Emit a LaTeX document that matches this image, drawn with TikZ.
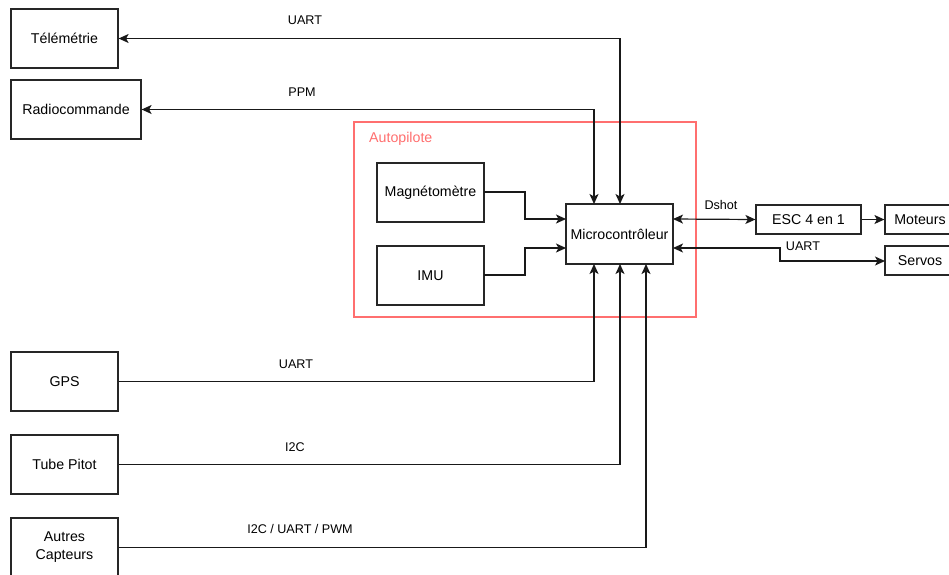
\documentclass[tikz,border=0pt]{standalone}
\usepackage{fontspec}
\setmainfont{Liberation Sans}
\usetikzlibrary{arrows.meta}
\definecolor{autored}{HTML}{FF6F6F}
\tikzset{
  box/.style={draw=black!85, line width=1.2pt, fill=white, inner sep=0pt, align=center, font=\fontsize{14.2}{18}\selectfont},
  lbl/.style={font=\fontsize{12.6}{15}\selectfont, inner sep=0pt},
  conn/.style={line width=1.2pt, black!90},
  tip/.style={-{Stealth[length=10pt,width=9pt,inset=2.5pt]}},
  tips/.style={{Stealth[length=10pt,width=9pt,inset=2.5pt]}-{Stealth[length=10pt,width=9pt,inset=2.5pt]}}
}
\begin{document}
\begin{tikzpicture}[x=1pt,y=-1pt]
\useasboundingbox[fill=white] (0,0) rectangle (949,574);
% frame
\node[draw=autored, line width=1.2pt, minimum width=342pt, minimum height=195pt, inner sep=0pt] (frame) at (525,219.5) {};
\node[anchor=west, text=autored, font=\fontsize{14.2}{17}\selectfont, inner sep=0pt] (autolbl) at (369,139) {Autopilote};
% boxes
\node[box, minimum width=107pt, minimum height=59pt] (tele) at (64.5,38.5) {Télémétrie};
\node[box, minimum width=130pt, minimum height=59pt] (radio) at (76,109.5) {Radiocommande};
\node[box, minimum width=107pt, minimum height=59pt] (mag) at (430.5,192.5) {Magnétomètre};
\node[box, minimum width=107pt, minimum height=59pt] (imu) at (430.5,275.5) {IMU};
\node[box, minimum width=107pt, minimum height=60pt] (micro) at (619.5,234) {Microcontrôleur};
\node[box, minimum width=105pt, minimum height=29pt] (esc) at (808.5,219.5) {ESC 4 en 1};
\node[box, minimum width=70pt, minimum height=29pt] (mot) at (920,219.5) {Moteurs};
\node[box, minimum width=70pt, minimum height=29pt] (serv) at (920,260.5) {Servos};
\node[box, minimum width=107pt, minimum height=59pt] (gps) at (64.5,381.5) {GPS};
\node[box, minimum width=107pt, minimum height=59pt] (pitot) at (64.5,464.5) {Tube Pitot};
\node[box, minimum width=107pt, minimum height=59pt] (autres) at (64.5,547.5) {Autres\\Capteurs};
% anchor coordinates on microcontroller
\coordinate (mtA) at (594,204);
\coordinate (mtB) at (620,204);
\coordinate (mbA) at (594,264);
\coordinate (mbB) at (620,264);
\coordinate (mbC) at (646,264);
\coordinate (mlA) at (566,219);
\coordinate (mlB) at (566,248);
\coordinate (mrA) at (673,219);
\coordinate (mrB) at (673,248);
\coordinate (sv) at (885,261);
\coordinate (mgo) at (484,192);
\coordinate (imo) at (484,275);
% connectors
\draw[conn,tips] (tele.east) -| (mtB);
\draw[conn,tips] (radio.east) -| (mtA);
\draw[conn,tip] (mgo) -- (525,192) |- (mlA);
\draw[conn,tip] (imo) -- (525,275) |- (mlB);
\draw[conn,tips] (mrA) -- (esc.west);
\draw[conn,tip] (esc.east) -- (mot.west);
\draw[conn,tips] (mrB) -- (780,248) |- (sv);
\draw[conn,tip] (gps.east) -| (mbA);
\draw[conn,tip] (pitot.east) -| (mbB);
\draw[conn,tip] (autres.east) -| (mbC);
% labels
\node[lbl] (l1) at (305,20) {UART};
\node[lbl] (l2) at (302,92) {PPM};
\node[lbl] (l3) at (721,205) {Dshot};
\node[lbl] (l4) at (803,246) {UART};
\node[lbl] (l5) at (296,364) {UART};
\node[lbl] (l6) at (295,447) {I2C};
\node[lbl] (l7) at (300,529) {I2C / UART / PWM};
\end{tikzpicture}
\end{document}
